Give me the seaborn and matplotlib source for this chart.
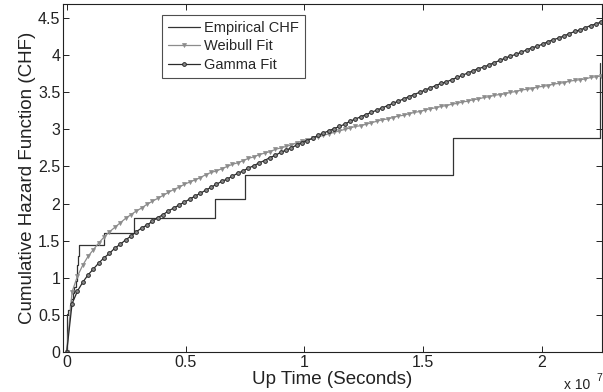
import numpy as np
import pandas as pd
import matplotlib
matplotlib.use("Agg")
import matplotlib.pyplot as plt
import seaborn as sns

# Empirical cumulative hazard (Nelson-Aalen steps); times in units of 1e7 s
emp_time = [0.0, 0.0005, 0.0008, 0.0010, 0.0012, 0.0015, 0.0018, 0.0020, 0.0023,
            0.0026, 0.0028, 0.0030, 0.0070, 0.0120, 0.0180, 0.0250, 0.0320,
            0.0380, 0.0420, 0.0450, 0.0480, 0.0520, 0.156, 0.283, 0.623,
            0.750, 1.625, 2.246]
emp_chf = [0.0, 0.04, 0.08, 0.12, 0.16, 0.20, 0.25, 0.29, 0.34, 0.40, 0.45, 0.51,
           0.57, 0.64, 0.71, 0.79, 0.87, 0.96, 1.06, 1.17, 1.30, 1.44, 1.61,
           1.81, 2.06, 2.39, 2.89, 3.89]

# Fitted curves evaluated on an evenly spaced time grid (0 .. 2.25e7 s)
fit_time = np.linspace(0.0, 2.25, 101)

weibull_chf = [
    0.00, 0.81, 1.02, 1.17, 1.29, 1.38, 1.47, 1.55, 1.62, 1.68, 1.74,
    1.80, 1.85, 1.90, 1.94, 1.99, 2.03, 2.07, 2.11, 2.15, 2.19,
    2.22, 2.26, 2.29, 2.32, 2.35, 2.39, 2.42, 2.44, 2.47, 2.50,
    2.53, 2.55, 2.58, 2.61, 2.63, 2.66, 2.68, 2.70, 2.73, 2.75,
    2.77, 2.79, 2.82, 2.84, 2.86, 2.88, 2.90, 2.92, 2.94, 2.96,
    2.98, 3.00, 3.02, 3.04, 3.05, 3.07, 3.09, 3.11, 3.13, 3.14,
    3.16, 3.18, 3.19, 3.21, 3.23, 3.24, 3.26, 3.28, 3.29, 3.31,
    3.32, 3.34, 3.35, 3.37, 3.38, 3.40, 3.41, 3.43, 3.44, 3.46,
    3.47, 3.48, 3.50, 3.51, 3.53, 3.54, 3.55, 3.57, 3.58, 3.59,
    3.61, 3.62, 3.63, 3.65, 3.66, 3.67, 3.68, 3.70, 3.71, 3.72,
]

gamma_chf = [
    0.00, 0.65, 0.82, 0.94, 1.04, 1.12, 1.20, 1.27, 1.33, 1.40, 1.45,
    1.51, 1.56, 1.62, 1.67, 1.71, 1.76, 1.81, 1.85, 1.90, 1.94,
    1.98, 2.02, 2.06, 2.10, 2.14, 2.18, 2.22, 2.26, 2.30, 2.33,
    2.37, 2.41, 2.44, 2.48, 2.51, 2.55, 2.58, 2.62, 2.65, 2.69,
    2.72, 2.75, 2.79, 2.82, 2.85, 2.88, 2.92, 2.95, 2.98, 3.01,
    3.04, 3.07, 3.11, 3.14, 3.17, 3.20, 3.23, 3.26, 3.29, 3.32,
    3.35, 3.38, 3.41, 3.44, 3.47, 3.50, 3.53, 3.56, 3.59, 3.62,
    3.64, 3.67, 3.70, 3.73, 3.76, 3.79, 3.82, 3.84, 3.87, 3.90,
    3.93, 3.96, 3.99, 4.01, 4.04, 4.07, 4.10, 4.12, 4.15, 4.18,
    4.21, 4.23, 4.26, 4.29, 4.32, 4.34, 4.37, 4.40, 4.42, 4.45,
]

x_ticks = [0, 0.5, 1, 1.5, 2]
x_tick_labels = ["0", "0.5", "1", "1.5", "2"]
y_ticks = [0, 0.5, 1, 1.5, 2, 2.5, 3, 3.5, 4, 4.5]
y_tick_labels = ["0", "0.5", "1", "1.5", "2", "2.5", "3", "3.5", "4", "4.5"]

sns.set_style("ticks")
plt.rcParams["font.family"] = ["Liberation Sans", "DejaVu Sans"]
plt.rcParams["xtick.direction"] = "in"
plt.rcParams["ytick.direction"] = "in"

fig = plt.figure(figsize=(6.03, 3.92), dpi=100)
ax = fig.add_axes([63 / 603, 1 - 352 / 392, (602 - 63) / 603, (352 - 4) / 392])

emp_df = pd.DataFrame({"t": emp_time, "H": emp_chf})
wb_df = pd.DataFrame({"t": fit_time, "H": weibull_chf})
gm_df = pd.DataFrame({"t": fit_time, "H": gamma_chf})

sns.lineplot(data=emp_df, x="t", y="H", ax=ax, color="#333333", lw=0.9,
             drawstyle="steps-post", label="Empirical CHF", estimator=None, sort=False)
sns.lineplot(data=wb_df, x="t", y="H", ax=ax, color="#8c8c8c", lw=0.9,
             marker="v", markersize=2.9, markerfacecolor="#8c8c8c",
             markeredgecolor="#8c8c8c", markeredgewidth=0.5,
             label="Weibull Fit", estimator=None, sort=False)
sns.lineplot(data=gm_df, x="t", y="H", ax=ax, color="#2a2a2a", lw=0.9,
             marker="o", markersize=2.7, markerfacecolor="#8a8a8a",
             markeredgecolor="#2a2a2a", markeredgewidth=0.7,
             label="Gamma Fit", estimator=None, sort=False)

ax.set_xlim(-0.0156, 2.2526)
ax.set_ylim(0, 4.69)
ax.set_xticks(x_ticks)
ax.set_xticklabels(x_tick_labels)
ax.set_yticks(y_ticks)
ax.set_yticklabels(y_tick_labels)
ax.tick_params(axis="both", which="both", direction="in", length=4, width=0.7,
               top=True, right=True, labelsize=11.5, colors="#222222", pad=2)
for s in ax.spines.values():
    s.set_linewidth(0.8)
    s.set_color("#222222")
    s.set_visible(True)

ax.set_xlabel("Up Time (Seconds)", fontsize=13.5, labelpad=1, color="#222222")
ax.set_ylabel("Cumulative Hazard Function (CHF)", fontsize=13.5, labelpad=1, color="#222222")

fig.text(564 / 603, 1 - 389 / 392, "x 10", fontsize=10, color="#222222",
         ha="left", va="baseline")
fig.text(596 / 603, 1 - 381 / 392, "7", fontsize=7.5, color="#222222",
         ha="left", va="baseline")

leg = ax.legend(loc="upper left", bbox_to_anchor=(0.184, 0.968), borderaxespad=0,
                fontsize=10.5, frameon=True, fancybox=False, handlelength=2.2,
                handletextpad=0.3, labelspacing=0.3, borderpad=0.4)
leg.get_frame().set_edgecolor("#222222")
leg.get_frame().set_linewidth(0.8)

fig.savefig("out.png", dpi=100)
